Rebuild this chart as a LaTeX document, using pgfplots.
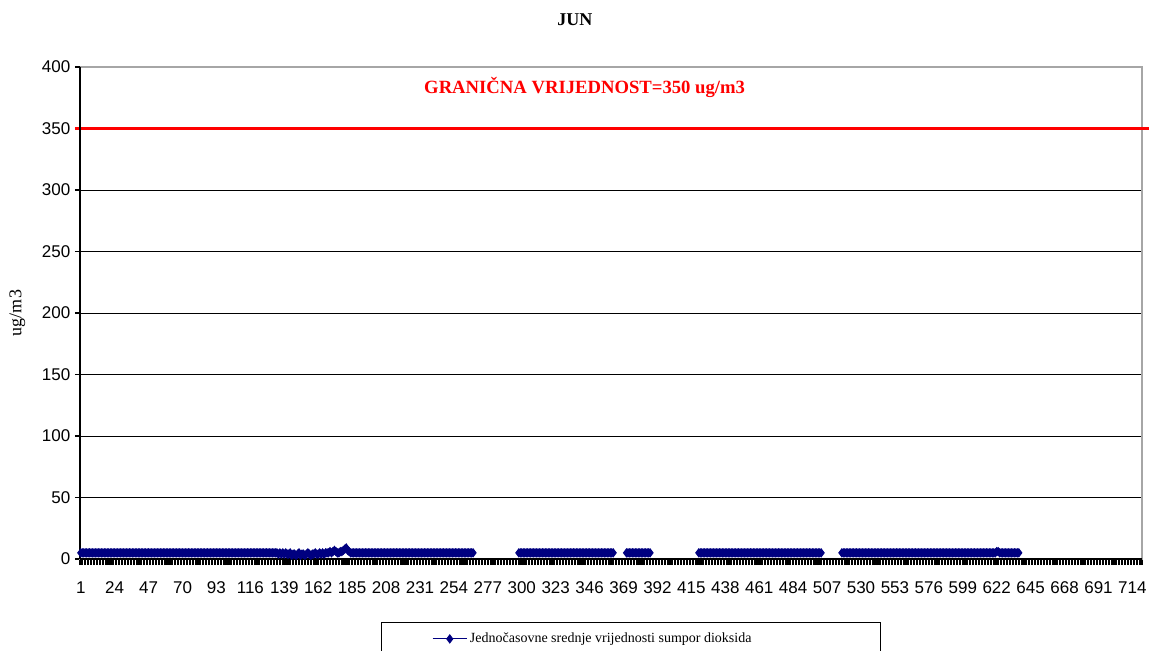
\documentclass[border=0pt]{standalone}
\usepackage{pgfplots}
\pgfplotsset{compat=1.18}
\usepackage{fontspec}
\setmainfont{Liberation Serif}
\newfontfamily\ticksfont{Liberation Sans}
\definecolor{sernavy}{RGB}{0,0,128}

\begin{document}
\begin{tikzpicture}
% page = 1149x650 px, 1px = 0.75pt
\path[use as bounding box] (-60pt,-68.25pt) rectangle (801.75pt,419.25pt);
\begin{axis}[
    at={(0,0)}, anchor=south west,
    scale only axis,
    width=796.5pt, height=369pt,
    xmin=0.5, xmax=720.5,
    ymin=0, ymax=400,
    clip=false,
    unbounded coords=jump,
    xtick={1,24,...,714},
    minor xtick={0.5,1.5,...,720.5},
    ytick={0,50,...,350},
    extra y ticks={400},
    extra y tick style={grid=none},
    xtick pos=bottom, ytick pos=left,
    tick align=outside,
    major tick length=3.75pt, minor tick length=4.5pt,
    major x tick style={draw=none},
    tick style={black, line width=0.8pt},
    ymajorgrids,
    major grid style={black, line width=0.75pt},
    axis line style={gray!70, line width=1pt},
    /pgf/number format/assume math mode=true,
    ticklabel style={font=\ticksfont\fontsize{12.75}{14}\selectfont},
    xticklabel style={yshift=-10pt},
    ylabel={ug/m3},
    ylabel style={at={(axis description cs:-0.059,0.5)}, anchor=center,
        font=\fontsize{13.5}{15}\selectfont},
    title={\textbf{JUN}},
    title style={at={(axis description cs:0.466,1.079)}, anchor=center,
        font=\fontsize{13.5}{15}\selectfont},
    legend style={at={(axis description cs:0.519,-0.128)}, anchor=north,
        draw=black, line width=0.6pt, inner xsep=38pt, inner ysep=6pt,
        font=\fontsize{10.5}{12}\selectfont},
    legend image code/.code={\draw[mark repeat=2,mark phase=2]
        plot coordinates {(0cm,0cm) (0.45cm,0cm) (0.9cm,0cm)};},
]
% limit value
\addplot[red, line width=2.25pt, forget plot] coordinates {(-3,350) (725,350)};
\node[anchor=west, inner sep=0pt, text=red, font=\bfseries\fontsize{14}{16}\selectfont]
    at (axis cs:233.7,383.7) {GRANIČNA VRIJEDNOST=350 ug/m3};

% hourly SO2 means
\addplot[sernavy, line width=0.75pt, mark=diamond*, mark size=3pt,
    mark options={fill=sernavy, draw=sernavy}] coordinates {
(1,5) (2,5) (3,5) (4,5) (5,5) (6,5) (7,5) (8,5) (9,5) (10,5)
(11,5) (12,5) (13,5) (14,5) (15,5) (16,5) (17,5) (18,5) (19,5) (20,5)
(21,5) (22,5) (23,5) (24,5) (25,5) (26,5) (27,5) (28,5) (29,5) (30,5)
(31,5) (32,5) (33,5) (34,5) (35,5) (36,5) (37,5) (38,5) (39,5) (40,5)
(41,5) (42,5) (43,5) (44,5) (45,5) (46,5) (47,5) (48,5) (49,5) (50,5)
(51,5) (52,5) (53,5) (54,5) (55,5) (56,5) (57,5) (58,5) (59,5) (60,5)
(61,5) (62,5) (63,5) (64,5) (65,5) (66,5) (67,5) (68,5) (69,5) (70,5)
(71,5) (72,5) (73,5) (74,5) (75,5) (76,5) (77,5) (78,5) (79,5) (80,5)
(81,5) (82,5) (83,5) (84,5) (85,5) (86,5) (87,5) (88,5) (89,5) (90,5)
(91,5) (92,5) (93,5) (94,5) (95,5) (96,5) (97,5) (98,5) (99,5) (100,5)
(101,5) (102,5) (103,5) (104,5) (105,5) (106,5) (107,5) (108,5) (109,5) (110,5)
(111,5) (112,5) (113,5) (114,5) (115,5) (116,5) (117,5) (118,5) (119,5) (120,5)
(121,5) (122,5) (123,5) (124,5) (125,5) (126,5) (127,5) (128,5) (129,5) (130,5)
(131,5) (132,5) (133,5) (134,5) (135,4) (136,5) (137,4) (138,5) (139,4) (140,5)
(141,4) (142,4) (143,5) (144,3) (145,4) (146,4) (147,3) (148,4) (149,5) (150,3)
(151,4) (152,4) (153,3) (154,4) (155,5) (156,4) (157,3) (158,4) (159,4) (160,5)
(161,4) (162,4) (163,5) (164,4) (165,5) (166,4) (167,5) (168,5) (169,5) (170,6)
(171,5) (172,6) (173,7) (174,6) (175,5) (176,5) (177,6) (178,6) (179,7) (180,8)
(181,9) (182,7) (183,6) (184,5) (185,5) (186,5) (187,5) (188,5) (189,5) (190,5)
(191,5) (192,5) (193,5) (194,5) (195,5) (196,5) (197,5) (198,5) (199,5) (200,5)
(201,5) (202,5) (203,5) (204,5) (205,5) (206,5) (207,5) (208,5) (209,5) (210,5)
(211,5) (212,5) (213,5) (214,5) (215,5) (216,5) (217,5) (218,5) (219,5) (220,5)
(221,5) (222,5) (223,5) (224,5) (225,5) (226,5) (227,5) (228,5) (229,5) (230,5)
(231,5) (232,5) (233,5) (234,5) (235,5) (236,5) (237,5) (238,5) (239,5) (240,5)
(241,5) (242,5) (243,5) (244,5) (245,5) (246,5) (247,5) (248,5) (249,5) (250,5)
(251,5) (252,5) (253,5) (254,5) (255,5) (256,5) (257,5) (258,5) (259,5) (260,5)
(261,5) (262,5) (263,5) (264,5) (265,5) (266,5) (267,5)
(280,nan)
(298,5) (299,5) (300,5)
(301,5) (302,5) (303,5) (304,5) (305,5) (306,5) (307,5) (308,5) (309,5) (310,5)
(311,5) (312,5) (313,5) (314,5) (315,5) (316,5) (317,5) (318,5) (319,5) (320,5)
(321,5) (322,5) (323,5) (324,5) (325,5) (326,5) (327,5) (328,5) (329,5) (330,5)
(331,5) (332,5) (333,5) (334,5) (335,5) (336,5) (337,5) (338,5) (339,5) (340,5)
(341,5) (342,5) (343,5) (344,5) (345,5) (346,5) (347,5) (348,5) (349,5) (350,5)
(351,5) (352,5) (353,5) (354,5) (355,5) (356,5) (357,5) (358,5) (359,5) (360,5)
(361,5) (362,5)
(366,nan)
(371,5) (372,5) (373,5) (374,5) (375,5) (376,5) (377,5) (378,5) (379,5) (380,5)
(381,5) (382,5) (383,5) (384,5) (385,5) (386,5) (387,5)
(400,nan)
(420,5)
(421,5) (422,5) (423,5) (424,5) (425,5) (426,5) (427,5) (428,5) (429,5) (430,5)
(431,5) (432,5) (433,5) (434,5) (435,5) (436,5) (437,5) (438,5) (439,5) (440,5)
(441,5) (442,5) (443,5) (444,5) (445,5) (446,5) (447,5) (448,5) (449,5) (450,5)
(451,5) (452,5) (453,5) (454,5) (455,5) (456,5) (457,5) (458,5) (459,5) (460,5)
(461,5) (462,5) (463,5) (464,5) (465,5) (466,5) (467,5) (468,5) (469,5) (470,5)
(471,5) (472,5) (473,5) (474,5) (475,5) (476,5) (477,5) (478,5) (479,5) (480,5)
(481,5) (482,5) (483,5) (484,5) (485,5) (486,5) (487,5) (488,5) (489,5) (490,5)
(491,5) (492,5) (493,5) (494,5) (495,5) (496,5) (497,5) (498,5) (499,5) (500,5)
(501,5) (502,5) (503,5)
(510,nan)
(517,5) (518,5) (519,5) (520,5)
(521,5) (522,5) (523,5) (524,5) (525,5) (526,5) (527,5) (528,5) (529,5) (530,5)
(531,5) (532,5) (533,5) (534,5) (535,5) (536,5) (537,5) (538,5) (539,5) (540,5)
(541,5) (542,5) (543,5) (544,5) (545,5) (546,5) (547,5) (548,5) (549,5) (550,5)
(551,5) (552,5) (553,5) (554,5) (555,5) (556,5) (557,5) (558,5) (559,5) (560,5)
(561,5) (562,5) (563,5) (564,5) (565,5) (566,5) (567,5) (568,5) (569,5) (570,5)
(571,5) (572,5) (573,5) (574,5) (575,5) (576,5) (577,5) (578,5) (579,5) (580,5)
(581,5) (582,5) (583,5) (584,5) (585,5) (586,5) (587,5) (588,5) (589,5) (590,5)
(591,5) (592,5) (593,5) (594,5) (595,5) (596,5) (597,5) (598,5) (599,5) (600,5)
(601,5) (602,5) (603,5) (604,5) (605,5) (606,5) (607,5) (608,5) (609,5) (610,5)
(611,5) (612,5) (613,5) (614,5) (615,5) (616,5) (617,5) (618,5) (619,5) (620,5)
(621,5) (622,6) (623,6) (624,5) (625,5) (626,5) (627,5) (628,5) (629,5) (630,5)
(631,5) (632,5) (633,5) (634,5) (635,5) (636,5) (637,5)
};
\addlegendentry{Jednočasovne srednje vrijednosti sumpor dioksida\hspace*{57pt}}

\draw[black, line width=1pt] (rel axis cs:0,0) -- (rel axis cs:0,1);
\draw[black, line width=1pt] (rel axis cs:0,0) -- (rel axis cs:1,0);
\end{axis}
\end{tikzpicture}
\end{document}
